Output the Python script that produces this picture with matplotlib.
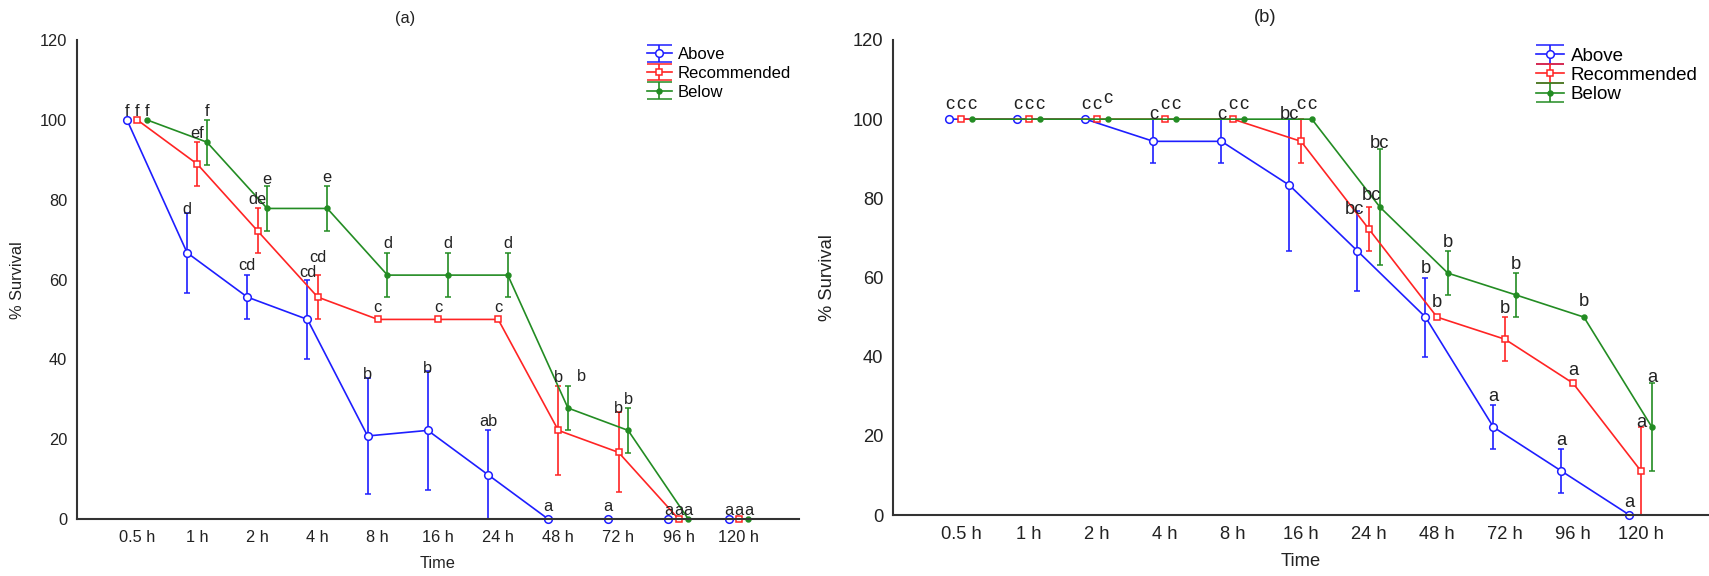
import numpy as np
import matplotlib.pyplot as plt
from matplotlib.lines import Line2D

plt.rcParams['font.family'] = ['Liberation Sans', 'DejaVu Sans']

# Data (% survival, mean and error)
times = ['0.5 h', '1 h', '2 h', '4 h', '8 h', '16 h', '24 h', '48 h', '72 h', '96 h', '120 h']
names = ['Above', 'Recommended', 'Below']

# panel (a)
a_above = [100, 66.7, 55.6, 50, 20.8, 22.2, 11.1, 0, 0, 0, 0]
a_above_err = [0, 10, 5.6, 10, 14.6, 15, 11.1, 0, 0, 0, 0]
a_rec = [100, 88.9, 72.2, 55.6, 50, 50, 50, 22.2, 16.7, 0, 0]
a_rec_err = [0, 5.6, 5.6, 5.6, 0, 0, 0, 11.1, 10, 0, 0]
a_below = [100, 94.4, 77.8, 77.8, 61.1, 61.1, 61.1, 27.8, 22.2, 0, 0]
a_below_err = [0, 5.6, 5.6, 5.6, 5.6, 5.6, 5.6, 5.6, 5.6, 0, 0]
a_above_lab = ['f', 'd', 'cd', 'cd', 'b', 'b', 'ab', 'a', 'a', 'a', 'a']
a_rec_lab = ['f', 'ef', 'de', 'cd', 'c', 'c', 'c', 'b', 'b', 'a', 'a']
a_below_lab = ['f', 'f', 'e', 'e', 'd', 'd', 'd', 'b', 'b', 'a', 'a']

# panel (b)
b_above = [100, 100, 100, 94.4, 94.4, 83.3, 66.7, 50, 22.2, 11.1, 0]
b_above_err = [0, 0, 0, 5.6, 5.6, 16.7, 10, 10, 5.6, 5.6, 0]
b_rec = [100, 100, 100, 100, 100, 94.4, 72.2, 50, 44.4, 33.3, 11.1]
b_rec_err = [0, 0, 0, 0, 0, 5.6, 5.6, 0, 5.6, 0, 11.1]
b_below = [100, 100, 100, 100, 100, 100, 77.8, 61.1, 55.6, 50, 22.2]
b_below_err = [0, 0, 0, 0, 0, 0, 14.7, 5.6, 5.6, 0, 11.1]
b_above_lab = ['c', 'c', 'c', 'c', 'c', 'bc', 'bc', 'b', 'a', 'a', 'a']
b_rec_lab = ['c', 'c', 'c', 'c', 'c', 'c', 'bc', 'b', 'b', 'a', 'a']
b_below_lab = ['c', 'c', 'c', 'c', 'c', 'c', 'bc', 'b', 'b', 'b', 'a']

# look of each series: colour, marker, filled, marker size, x offset
styles = [
    ('#1e1eff', 'o', False, 5.5, -0.17),
    ('#ff2424', 's', False, 5.0, 0.0),
    ('#238c23', 'o', True, 3.5, 0.16),
]

# gap between error bar top and letter centre (data units), with per-letter tweaks
pad_a = {(0, 1): 0.8, (0, 3): 1.7, (0, 4): 0.8, (0, 5): 0.5, (0, 7): 3.2, (0, 8): 3.2,
         (1, 3): 4.4, (1, 4): 3.0, (1, 5): 3.0, (1, 6): 3.0, (1, 8): 1.1, (2, 2): 1.6}
dx_a = {(2, 7): 0.23}
pad_b = {(0, 0): 3.8, (0, 1): 3.8, (0, 2): 3.8, (0, 3): 1.3, (0, 4): 1.3, (0, 5): 1.3,
         (0, 6): 0.6, (0, 10): 3.1,
         (1, 0): 3.8, (1, 1): 3.8, (1, 2): 3.8, (1, 3): 3.8, (1, 4): 3.8, (1, 5): 3.8,
         (1, 6): 2.9, (1, 7): 3.6, (1, 9): 3.1, (1, 10): 1.1,
         (2, 0): 3.8, (2, 1): 3.8, (2, 2): 5.3, (2, 3): 3.8, (2, 4): 3.8, (2, 5): 3.8,
         (2, 6): 1.3, (2, 9): 3.9, (2, 10): 1.4}
dx_b = {(0, 6): -0.04, (1, 6): 0.03}

W, H = 1709, 576
fig = plt.figure(figsize=(W / 100, H / 100), dpi=100)


def add_ax(l, r, t, b):
    return fig.add_axes([l / W, 1 - b / H, (r - l) / W, (b - t) / H])


def draw(ax, vals, errs, labs, pads, dxs, fs):
    x = np.arange(len(times))
    handles = []
    for i, (name, v, e, lab) in enumerate(zip(names, vals, errs, labs)):
        col, mk, filled, ms, off = styles[i]
        v = np.array(v, float)
        e = np.array(e, float)
        e_plot = np.where(e > 0, e, np.nan)
        lo = np.minimum(e_plot, v)
        cont = ax.errorbar(x + off, v, yerr=[lo, e_plot], color=col, lw=1.2,
                           marker=mk, ms=ms, mec=col, mew=1.1,
                           mfc=col if filled else 'white',
                           elinewidth=1.2, capsize=2.5, capthick=1.2, label=name)
        for art in [cont[0], *cont[1], *cont[2]]:
            art.set_clip_on(False)
        handles.append(cont)
        for j, t in enumerate(lab):
            yt = v[j] + e[j] + pads.get((i, j), 2.2)
            ax.text(x[j] + off + dxs.get((i, j), 0), yt, t, ha='center', va='center',
                    fontsize=fs, color='#222222')
    ax.set_xlim(-1, 11)
    ax.set_ylim(0, 120)
    ax.set_xticks(x)
    ax.set_xticklabels(times)
    ax.set_yticks(range(0, 121, 20))
    ax.tick_params(length=0, labelsize=fs, colors='#222222')
    ax.tick_params(axis='x', pad=8)
    ax.tick_params(axis='y', pad=7)
    for s in ['top', 'right']:
        ax.spines[s].set_visible(False)
    for s in ['left', 'bottom']:
        ax.spines[s].set_color('#333333')
        ax.spines[s].set_linewidth(1.5)
    return handles


def add_legend(ax, handles, anchor, fs, spacing):
    leg = ax.legend(handles=handles, loc='upper left', bbox_to_anchor=anchor, frameon=False,
                    borderpad=0, borderaxespad=0, handlelength=1.5, handletextpad=0.35,
                    labelspacing=spacing, fontsize=fs)
    # widen the caps so they span the handle, as in the reference
    for ln in leg.findobj(Line2D):
        if ln.get_marker() == '_':
            ln.set_markersize(fs * 1.5)
    return leg


ax1 = add_ax(77, 799, 40, 519)
h1 = draw(ax1, [a_above, a_rec, a_below], [a_above_err, a_rec_err, a_below_err],
          [a_above_lab, a_rec_lab, a_below_lab], pad_a, dx_a, 11.8)
add_legend(ax1, h1, (0.789, 0.985), 12, 0.22)

ax2 = add_ax(893, 1709, 40, 515)
h2 = draw(ax2, [b_above, b_rec, b_below], [b_above_err, b_rec_err, b_below_err],
          [b_above_lab, b_rec_lab, b_below_lab], pad_b, dx_b, 13.2)
add_legend(ax2, h2, (0.788, 0.984), 13.5, 0.11)

# titles and axis labels
fig.text(405 / W, 1 - 18 / H, '(a)', ha='center', va='center', fontsize=11.8, color='#222222')
fig.text(1265 / W, 1 - 17 / H, '(b)', ha='center', va='center', fontsize=13.2, color='#222222')
fig.text(18 / W, 1 - 280 / H, '% Survival', rotation=90, ha='center', va='center',
         fontsize=11.8, color='#222222')
fig.text(827 / W, 1 - 278 / H, '% Survival', rotation=90, ha='center', va='center',
         fontsize=13.2, color='#222222')
fig.text(438 / W, 1 - 564 / H, 'Time', ha='center', va='center', fontsize=11.8, color='#222222')
fig.text(1301 / W, 1 - 562 / H, 'Time', ha='center', va='center', fontsize=13.2, color='#222222')

fig.savefig('out.png', dpi=100)
